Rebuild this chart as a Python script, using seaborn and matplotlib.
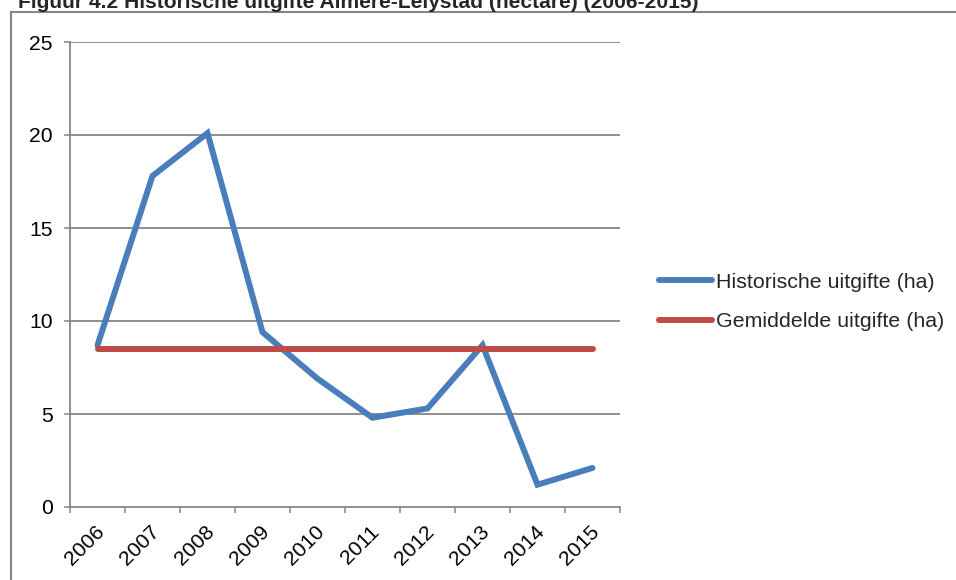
import matplotlib
matplotlib.use("Agg")
import matplotlib.pyplot as plt
from matplotlib.patches import Rectangle
from matplotlib.lines import Line2D
import matplotlib.transforms as mtransforms
import numpy as np
import pandas as pd
import seaborn as sns

# Yearly land issue Almere-Lelystad, in hectare
years = ["2006", "2007", "2008", "2009", "2010", "2011", "2012", "2013", "2014", "2015"]
issued_ha = [8.7, 17.8, 20.1, 9.4, 6.9, 4.8, 5.3, 8.7, 1.2, 2.1]
y_ticks = [0, 5, 10, 15, 20, 25]

series_hist = "Historische uitgifte (ha)"
series_mean = "Gemiddelde uitgifte (ha)"
title = "Figuur 4.2 Historische uitgifte Almere-Lelystad (hectare) (2006-2015)"

mean_ha = float(np.mean(issued_ha))
idx = np.arange(len(years))
df = pd.DataFrame({
    "pos": np.concatenate([idx, idx]),
    "ha": issued_ha + [mean_ha] * len(years),
    "serie": [series_hist] * len(years) + [series_mean] * len(years),
})

sns.set_theme(style="white")
plt.rcParams["font.family"] = ["Liberation Sans", "DejaVu Sans"]

W, H = 956, 580
fig = plt.figure(figsize=(W / 100, H / 100), dpi=100)
ax = fig.add_axes([70 / W, 1 - 507 / H, 550 / W, 465 / H])

grid_c = "#868686"
blue = "#4A7EBB"
red = "#BE4B48"

sns.lineplot(data=df, x="pos", y="ha", hue="serie",
             palette={series_hist: blue, series_mean: red},
             linewidth=4.3, ax=ax, legend=False, sort=False)
for ln in ax.lines:
    ln.set_solid_capstyle("round")
    ln.set_solid_joinstyle("miter")

ax.set_xlim(-0.5, len(years) - 0.5)
ax.set_ylim(0, 25)
ax.set_xlabel("")
ax.set_ylabel("")

# horizontal gridlines
for v in y_ticks[1:]:
    ax.axhline(v, color=grid_c, lw=1.3, zorder=0)

ax.set_yticks(y_ticks)
ax.set_yticklabels([str(v) for v in y_ticks], fontsize=15.2)
ax.tick_params(axis="y", which="major", length=4.3, width=1.1, color=grid_c,
               pad=8, left=True, labelcolor="black")

# category boundaries carry tick marks, labels sit at the centres
ax.set_xticks(np.arange(-0.5, len(years), 1.0), minor=True)
ax.set_xticks(idx)
ax.set_xticklabels(years, fontsize=15.2, rotation=45, ha="right",
                   rotation_mode="anchor")
ax.tick_params(axis="x", which="major", length=0, pad=11, labelcolor="black")
ax.tick_params(axis="x", which="minor", length=4.3, width=1.1, color=grid_c,
               bottom=True)
shift = mtransforms.ScaledTranslation(-3 / 100, 0, fig.dpi_scale_trans)
for lbl in ax.get_xticklabels():
    lbl.set_transform(lbl.get_transform() + shift)

for side in ["top", "right"]:
    ax.spines[side].set_visible(False)
for side in ["left", "bottom"]:
    ax.spines[side].set_color(grid_c)
    ax.spines[side].set_linewidth(1.3)

# legend
handles = [Line2D([], [], color=blue, lw=4.3, solid_capstyle="round"),
           Line2D([], [], color=red, lw=4.3, solid_capstyle="round")]
fig.legend(handles, [series_hist, series_mean], loc="center left",
           bbox_to_anchor=(659 / W, 1 - 302 / H), frameon=False, fontsize=15.4,
           handlelength=2.5, handletextpad=0.15, labelspacing=0.95,
           borderaxespad=0, borderpad=0)

# outer chart frame
fig.patches.append(Rectangle((11 / W, -0.1), 1.2, 1 - 12 / H + 0.1,
                             transform=fig.transFigure, fill=False,
                             edgecolor=grid_c, lw=1.5))

fig.text(18 / W, 1 - 8 / H, title, fontsize=15.1, fontweight="bold",
         va="baseline", ha="left")

fig.savefig("out.png", dpi=100)
